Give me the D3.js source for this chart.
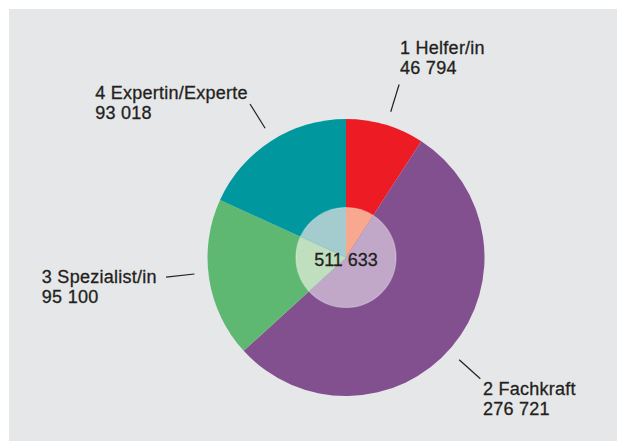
<!DOCTYPE html>
<html><head><meta charset="utf-8">
<script src="https://cdn.jsdelivr.net/npm/d3@7"></script>
<style>
html,body{margin:0;padding:0;background:#fff;}
svg{display:block;}
text{font-family:"Liberation Sans",Arial,Helvetica,sans-serif;fill:#231f20;stroke:#231f20;stroke-width:0.3px;}
</style></head>
<body>
<svg id="chart" width="617" height="441"></svg>
<script>
// Data
const categories = ["1 Helfer/in", "2 Fachkraft", "3 Spezialist/in", "4 Expertin/Experte"];
const values = [46794, 276721, 95100, 93018];
const valueLabels = ["46 794", "276 721", "95 100", "93 018"];
const totalLabel = "511 633";

// Styles
const outerColors = ["#ed1c24", "#824f8f", "#5eb872", "#00979e"];
const innerColors = ["#f8a88f", "#c1a8c9", "#bfdfbf", "#a4cbce"];
// label layout (angle nudge in degrees, side, text offsets)
const labelLayout = [
  {nudge: 0.6, side: "right", dx: 1, dy: -30},
  {nudge: 1.8, side: "right", dx: 2.6, dy: 16.4},
  {nudge: 2.7, side: "left", gap: 9.4, dy: 6.3},
  {nudge: 0.7, side: "left", gap: 2.3, dy: -4.7}
];

const W = 617, H = 441;
const svg = d3.select("#chart");
svg.append("rect").attr("x", 9).attr("y", 9).attr("width", W - 9).attr("height", H - 9).attr("fill", "#e6e7e8");

const cx = 346, cy = 257.5, R = 138.5, r0 = 50;
const g = svg.append("g").attr("transform", `translate(${cx},${cy})`);

const pie = d3.pie().sort(null).value(d => d)(values);
const arcOuter = d3.arc().innerRadius(0).outerRadius(R);
const arcInner = d3.arc().innerRadius(0).outerRadius(r0);

g.selectAll("path.outer").data(pie).join("path").attr("class", "outer")
  .attr("d", arcOuter).attr("fill", (d, i) => outerColors[i]);
g.selectAll("path.inner").data(pie).join("path").attr("class", "inner")
  .attr("d", arcInner).attr("fill", (d, i) => innerColors[i]);
g.append("circle").attr("r", r0).attr("fill", "none")
  .attr("stroke", "#ffffff").attr("stroke-opacity", 0.35).attr("stroke-width", 1.2);

g.append("text").attr("text-anchor", "middle").attr("y", 8.3)
  .style("font-size", "18px").text(totalLabel);

// leader lines and labels
const r1 = 152.5, r2 = 181;
pie.forEach((d, i) => {
  const L = labelLayout[i];
  const a = (d.startAngle + d.endAngle) / 2 + L.nudge * Math.PI / 180;
  const p1 = [Math.sin(a) * r1, -Math.cos(a) * r1];
  const p2 = [Math.sin(a) * r2, -Math.cos(a) * r2];
  g.append("line").attr("x1", p1[0]).attr("y1", p1[1]).attr("x2", p2[0]).attr("y2", p2[1])
    .attr("stroke", "#231f20").attr("stroke-width", 1.2);
  const t = g.append("text").style("font-size", "18px").style("letter-spacing", "0.25px");
  const t1 = t.append("tspan").text(categories[i]);
  t.append("tspan").text(valueLabels[i]);
  let x;
  if (L.side === "right") x = p2[0] + L.dx;
  else x = p2[0] - L.gap - t1.node().getComputedTextLength();
  const y = p2[1] + L.dy;
  t.selectAll("tspan").attr("x", x).attr("y", (_, k) => y + k * 20);
});
</script>
</body></html>
